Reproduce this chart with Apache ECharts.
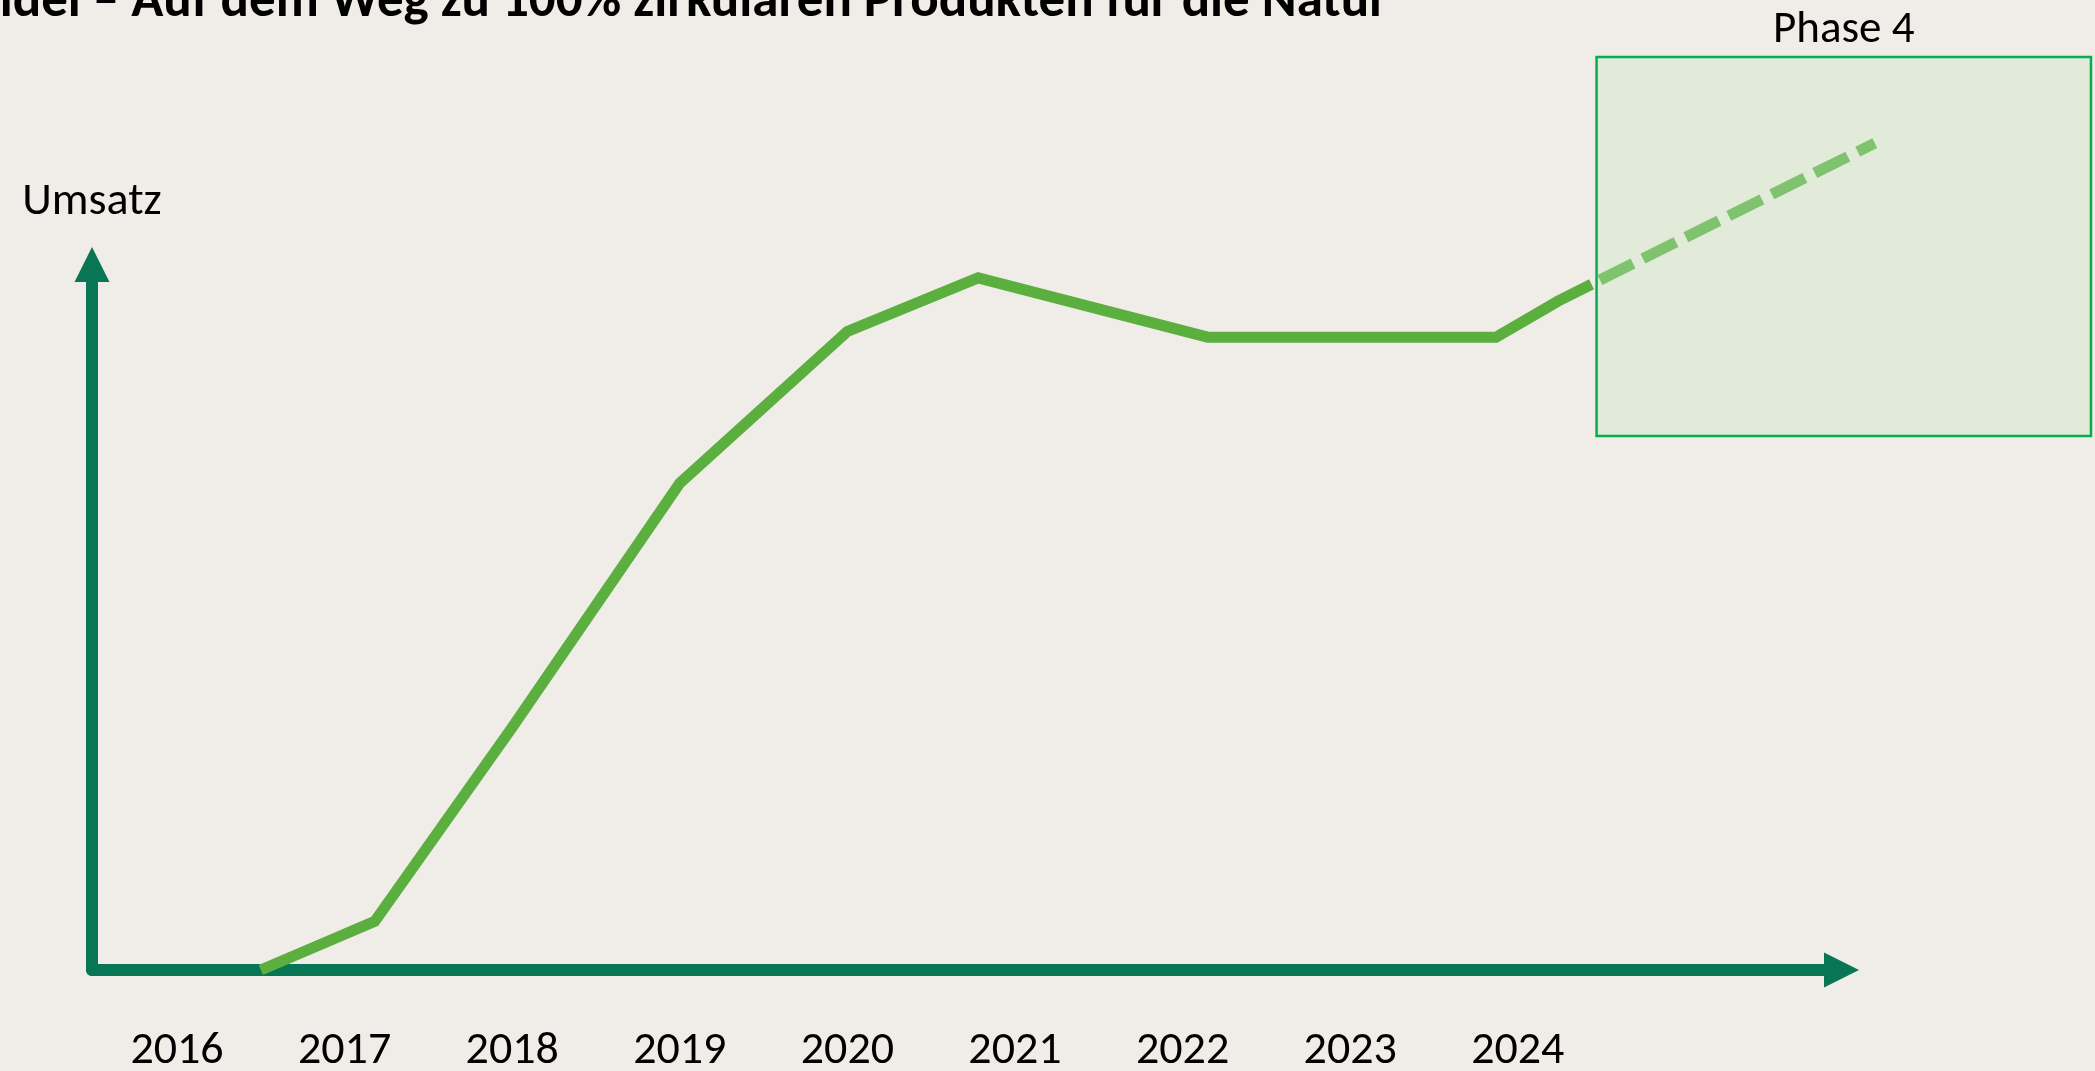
<!DOCTYPE html>
<html>
<head>
<meta charset="utf-8">
<script src="https://cdn.jsdelivr.net/npm/echarts@6/dist/echarts.min.js"></script>
<style>
  html, body { margin: 0; padding: 0; background: #f0ede8; }
  #chart { width: 2095px; height: 1071px; }
</style>
</head>
<body>
<div id="chart"></div>
<script>
// year ticks shown under the axis
const years = [2016, 2017, 2018, 2019, 2020, 2021, 2022, 2023, 2024];

// solid revenue line (x in years, y in relative units 0..100)
const solidX = [2016.5, 2017.18, 2018.0, 2019.0, 2020.0, 2020.78, 2022.15, 2023.87, 2024.24, 2024.44];
const solidY = [0, 6.9, 34.4, 69.0, 90.5, 98.1, 89.7, 89.7, 94.8, 97.2];

// dashed forecast
const dashX = [2024.49, 2026.13];
const dashY = [97.8, 117.2];

// phase 4 area: [x0, x1], [y0, y1]
const phaseName = 'Phase 4';
const phaseX = [2024.47, 2027.42];
const phaseY = [75.7, 129.4];

const font = 'Carlito, Lato, sans-serif';
const axisColor = '#087555';
const triangle = 'path://M5,0 L10,10 L0,10 Z';

const chart = echarts.init(document.getElementById('chart'));

const pairs = (xs, ys) => xs.map((x, i) => [x, ys[i]]);

chart.setOption({
    backgroundColor: '#f0ede8',
    animation: false,
    title: {
        text: 'idel – Auf dem Weg zu 100% zirkulären Produkten für die Natur',
        right: 707,
        top: -24,
        padding: 0,
        textStyle: {
            fontFamily: font,
            fontWeight: 'bold',
            fontSize: 53,
            lineHeight: 53,
            color: '#000'
        }
    },
    grid: {
        left: 92,
        right: 253.5,
        top: 264.5,
        bottom: 101,
        outerBoundsMode: 'none'
    },
    xAxis: {
        type: 'value',
        min: 2015.4928,
        max: 2025.9314,
        axisLine: {
            show: true,
            symbol: ['none', triangle],
            symbolSize: [35, 35],
            lineStyle: { color: axisColor, width: 12 }
        },
        axisTick: { show: false },
        splitLine: { show: false },
        axisLabel: {
            customValues: years,
            formatter: v => String(Math.round(v)),
            margin: 59,
            fontFamily: font,
            fontSize: 46,
            lineHeight: 44,
            color: '#000'
        }
    },
    yAxis: {
        type: 'value',
        min: 0,
        max: 100,
        name: 'Umsatz',
        nameLocation: 'end',
        nameGap: 40,
        nameTextStyle: {
            fontFamily: font,
            fontSize: 46,
            lineHeight: 44,
            color: '#000'
        },
        axisLine: {
            show: true,
            symbol: ['none', triangle],
            symbolSize: [35, 35],
            lineStyle: { color: axisColor, width: 12 }
        },
        axisTick: { show: false },
        axisLabel: { show: false },
        splitLine: { show: false }
    },
    series: [
        {
            // phase 4 box with its caption
            type: 'custom',
            clip: false,
            z: 1,
            silent: true,
            encode: { x: [0, 2], y: [1, 3] },
            data: [[phaseX[0], phaseY[1], phaseX[1], phaseY[0]]],
            renderItem: (params, api) => {
                const p0 = api.coord([api.value(0), api.value(1)]);
                const p1 = api.coord([api.value(2), api.value(3)]);
                return {
                    type: 'group',
                    children: [
                        {
                            type: 'rect',
                            shape: { x: p0[0], y: p0[1], width: p1[0] - p0[0], height: p1[1] - p0[1] },
                            style: { fill: '#e2ebd9', stroke: '#00b050', lineWidth: 2.5 }
                        },
                        {
                            type: 'text',
                            style: {
                                text: phaseName,
                                x: (p0[0] + p1[0]) / 2,
                                y: p0[1] - 26,
                                align: 'center',
                                verticalAlign: 'middle',
                                font: '45px ' + font,
                                fill: '#000'
                            }
                        }
                    ]
                };
            }
        },
        {
            // dashed forecast runs past the x axis end, so draw it as a custom polyline
            type: 'custom',
            clip: false,
            z: 3,
            silent: true,
            encode: { x: [0, 2], y: [1, 3] },
            data: [[dashX[0], dashY[0], dashX[1], dashY[1]]],
            renderItem: (params, api) => ({
                type: 'polyline',
                shape: {
                    points: [
                        api.coord([api.value(0), api.value(1)]),
                        api.coord([api.value(2), api.value(3)])
                    ]
                },
                style: {
                    stroke: '#80c36e',
                    lineWidth: 11,
                    lineDash: [37, 11],
                    fill: null
                }
            })
        },
        {
            type: 'line',
            data: pairs(solidX, solidY),
            symbol: 'none',
            clip: false,
            z: 4,
            lineStyle: { color: '#5aaf3e', width: 11, join: 'miter' }
        }
    ]
});
</script>
</body>
</html>
